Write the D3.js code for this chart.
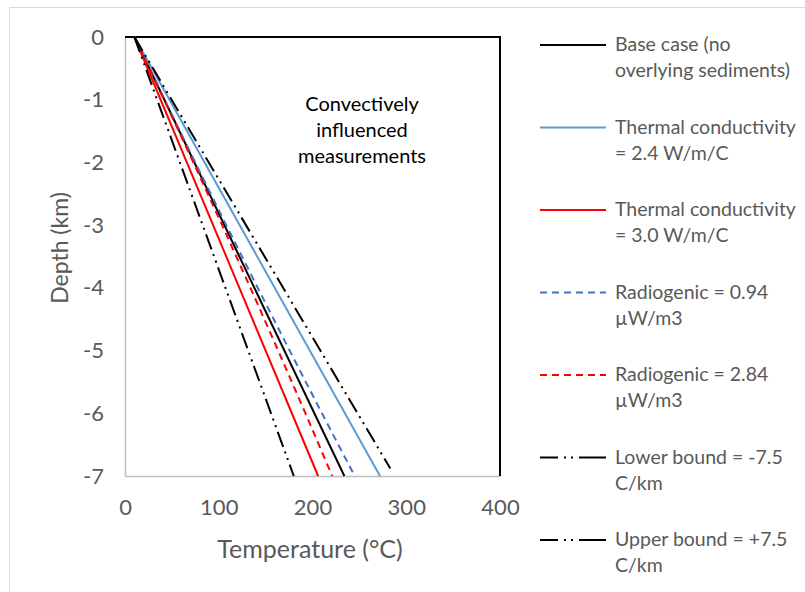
<!DOCTYPE html>
<html lang="en">
<head>
<meta charset="utf-8">
<title>Temperature vs depth</title>
<script src="https://cdn.jsdelivr.net/npm/d3@7"></script>
<style>
  body { margin: 0; background: #fff; }
  svg text { font-family: Lato, "Open Sans", sans-serif; }
</style>
</head>
<body>
<div id="chart"></div>
<script>
// depths (km) for each series, temperatures (°C)
var depthsTwo = [0, -7];
var depthsKm = [0, -1, -2, -3, -4, -5, -6, -7];
var baseCase = [10, 234];
var cond24 = [10, 272];
var cond30 = [10, 206];
var radio094 = [10, 42.2, 74.9, 108, 141.6, 175.6, 210.1, 245];
var radio284 = [10, 41.7, 72.9, 103.6, 133.8, 163.4, 192.5, 221];
var lowerBound = [10, 180];
var upperDepths = [0, -6.88];
var upperBound = [10, 283];

var xTicks = [0, 100, 200, 300, 400];
var yTicks = [0, -1, -2, -3, -4, -5, -6, -7];

var series = [
  {name: ["Base case (no", "overlying sediments)"], d: depthsTwo, t: baseCase, color: "#000", dash: null},
  {name: ["Thermal conductivity", "= 2.4 W/m/C"], d: depthsTwo, t: cond24, color: "#5B9BD5", dash: null},
  {name: ["Thermal conductivity", "= 3.0 W/m/C"], d: depthsTwo, t: cond30, color: "#FF0000", dash: null},
  {name: ["Radiogenic = 0.94", "\u00b5W/m3"], d: depthsKm, t: radio094, color: "#4472C4", dash: "7,5"},
  {name: ["Radiogenic = 2.84", "\u00b5W/m3"], d: depthsKm, t: radio284, color: "#FF0000", dash: "7,5"},
  {name: ["Lower bound = -7.5", "C/km"], d: depthsTwo, t: lowerBound, color: "#000", dash: "16,5,2,5,2,5", legDash: "18,6,2,5,2,6,30"},
  {name: ["Upper bound = +7.5", "C/km"], d: upperDepths, t: upperBound, color: "#000", dash: "16,5,2,5,2,5", legDash: "18,6,2,5,2,6,30"}
];

var W = 805, H = 592;
var svg = d3.select("#chart").append("svg").attr("width", W).attr("height", H);

// outer chart border
svg.append("rect").attr("x", 9.5).attr("y", 7.5).attr("width", 820).attr("height", 600)
  .attr("fill", "#fff").attr("stroke", "#d9d9d9").attr("stroke-width", 1);

var x = d3.scaleLinear().domain([0, 400]).range([125, 500]);
var y = d3.scaleLinear().domain([-7, 0]).range([476, 37]);

// axes (no tick marks, gray lines)
var xAxis = svg.append("g").attr("transform", "translate(0,476)")
  .call(d3.axisBottom(x).tickValues(xTicks).tickSize(0).tickPadding(23));
var yAxis = svg.append("g").attr("transform", "translate(125,0)")
  .call(d3.axisLeft(y).tickValues(yTicks).tickSize(0).tickPadding(21));
[xAxis, yAxis].forEach(function (g) {
  g.select(".domain").attr("stroke", "#bfbfbf").attr("stroke-width", 1.5);
  g.selectAll("text").attr("fill", "#595959").style("font-size", "22px");
});
yAxis.selectAll("text").text(function (d) { return d === 0 ? "0" : String(d); });

// black top and right border of the plot
svg.append("path")
  .attr("d", "M" + x(0) + "," + y(0) + "H" + x(400) + "V" + y(-7))
  .attr("fill", "none").attr("stroke", "#000").attr("stroke-width", 2);

var line = d3.line().x(function (p) { return x(p[0]); }).y(function (p) { return y(p[1]); });

series.forEach(function (s) {
  var pts = s.t.map(function (t, i) { return [t, s.d[i]]; });
  svg.append("path").datum(pts).attr("d", line)
    .attr("fill", "none").attr("stroke", s.color).attr("stroke-width", 2)
    .attr("stroke-dasharray", s.dash);
});

// annotation
var note = svg.append("text").attr("x", 362).attr("y", 111).attr("text-anchor", "middle")
  .attr("fill", "#000").style("font-size", "20px");
["Convectively", "influenced", "measurements"].forEach(function (t, i) {
  note.append("tspan").attr("x", 362).attr("dy", i === 0 ? 0 : 26).text(t);
});

// axis titles
svg.append("text").attr("x", 310).attr("y", 558).attr("text-anchor", "middle")
  .attr("fill", "#595959").style("font-size", "25px").text("Temperature (\u00b0C)");
svg.append("text").attr("transform", "translate(68,248) rotate(-90)").attr("text-anchor", "middle")
  .attr("fill", "#595959").style("font-size", "23px").text("Depth (km)");

// legend
var leg = svg.append("g");
series.forEach(function (s, i) {
  var ly = 45 + i * 82.5;
  leg.append("line").attr("x1", 540).attr("x2", 606).attr("y1", ly).attr("y2", ly)
    .attr("stroke", s.color).attr("stroke-width", 2).attr("stroke-dasharray", s.legDash || s.dash);
  var t = leg.append("text").attr("x", 615).attr("y", ly + 6).attr("fill", "#595959").style("font-size", "19.5px");
  s.name.forEach(function (n, j) {
    t.append("tspan").attr("x", 615).attr("dy", j === 0 ? 0 : 26).text(n);
  });
});
</script>
</body>
</html>
